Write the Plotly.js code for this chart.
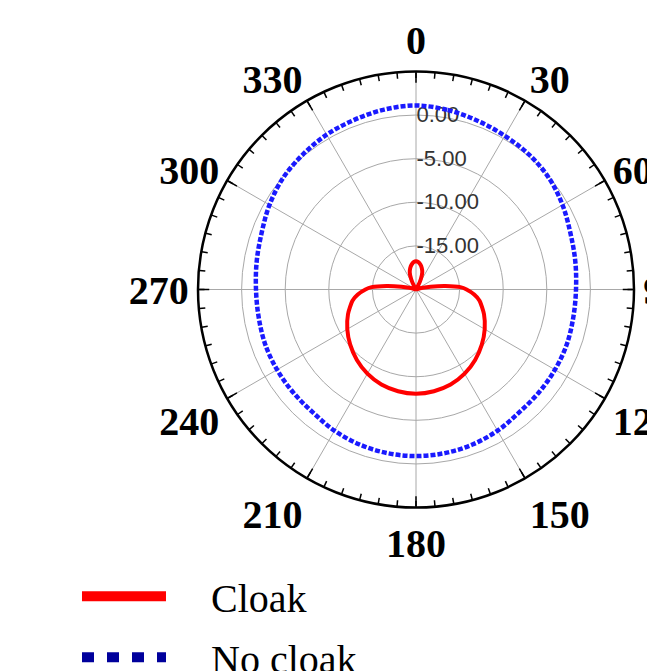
<!DOCTYPE html>
<html>
<head>
<meta charset="utf-8">
<script src="https://cdn.plot.ly/plotly-3.0.1.min.js"></script>
<style>html,body{margin:0;padding:0;background:#fff;}#chart{width:647px;height:671px;}</style>
</head>
<body>
<div id="chart"></div>
<script>
// Angles in degrees (0 at top, clockwise), values in dB
const cloakTheta = [0,5,10,15,20,25,30,35,45,55,65,72,76,79,83,87,90,95,100,110,120,130,140,150,160,170,180,
  190,200,210,220,230,240,250,260,265,270,273,277,281,284,288,295,305,315,325,330,335,340,345,350,355,360];
const cloakR = [-16.75,-16.85,-17.1,-17.45,-17.9,-18.7,-19.6,-20,-20,-20,-20,-19.8,-19.2,-18.3,-16.6,-14.9,-14.2,-13.3,-12.6,-11.7,-10.9,-10.15,-9.45,-8.85,-8.4,-8.15,-8.05,
  -8.15,-8.4,-8.85,-9.45,-10.15,-10.9,-11.7,-12.6,-13.3,-14.2,-14.9,-16.6,-18.3,-19.2,-19.8,-20,-20,-20,-20,-19.6,-18.7,-17.9,-17.45,-17.1,-16.85,-16.75];

const noCloakTheta = [0,10,20,30,40,50,60,70,80,90,100,110,120,130,140,150,160,170,180,
  190,200,210,220,230,240,250,260,270,280,290,300,310,320,330,340,350,360];
const noCloakR = [1.1,0.9,0.6,0.35,0.18,-0.1,-0.6,-1.15,-1.45,-1.65,-1.68,-1.6,-1.6,-1.62,-1.6,-1.3,-1.08,-0.95,-0.9,
  -0.95,-1.08,-1.3,-1.6,-1.62,-1.6,-1.6,-1.68,-1.65,-1.45,-1.15,-0.6,-0.1,0.2,0.5,0.7,0.95,1.1];

const angleTicks = [0,30,60,90,120,150,180,210,240,270,300,330];
const angleLabels = ['0','30','60','90','120','150','180','210','240','270','300','330'];
const minorTicks = [0,5,10,15,20,25,30,35,40,45,50,55,60,65,70,75,80,85,90,95,100,105,110,115,120,125,130,135,140,145,150,155,160,165,170,175,
  180,185,190,195,200,205,210,215,220,225,230,235,240,245,250,255,260,265,270,275,280,285,290,295,300,305,310,315,320,325,330,335,340,345,350,355];
const radialTicks = [-15,-10,-5,0];
const radialLabels = ['-15.00','-10.00','-5.00','0.00'];
const seriesNames = ['Cloak','No cloak'];

const domain = {x:[198/647, 634/647], y:[1-507.5/671, 1-71.5/671]};
const gap = '\u2003';

const traces = [
  {type:'scatterpolar', subplot:'polar', r:noCloakR, theta:noCloakTheta, mode:'lines', name:seriesNames[1],
   legendgroup:'b', showlegend:false,
   line:{color:'#1a1aff', width:4.5, dash:'5px,2px', shape:'spline', smoothing:1}},
  {type:'scatterpolar', subplot:'polar', r:cloakR, theta:cloakTheta, mode:'lines', name:seriesNames[0],
   legendgroup:'a', showlegend:false,
   line:{color:'#ff0000', width:4, shape:'spline', smoothing:0.6}},
  {type:'scatterpolar', subplot:'polar2', r:[null], theta:[null], mode:'lines', name:gap + seriesNames[0],
   legendgroup:'a', line:{color:'#ff0000', width:12}},
  {type:'scatterpolar', subplot:'polar2', r:[null], theta:[null], mode:'lines', name:gap + seriesNames[1],
   legendgroup:'b', line:{color:'#00009c', width:12, dash:'12px,13px'}}
];

const layout = {
  width:647, height:671,
  margin:{l:0,r:0,t:0,b:0, autoexpand:false},
  paper_bgcolor:'#ffffff',
  showlegend:true,
  legend:{x:0.119, xanchor:'left', y:0.066, yanchor:'middle', orientation:'v',
    font:{family:'Liberation Serif, Times New Roman, serif', size:40, color:'#000'},
    itemwidth:84, tracegroupgap:6, traceorder:'grouped', bgcolor:'rgba(0,0,0,0)'},
  polar:{
    domain:domain,
    bgcolor:'rgba(0,0,0,0)',
    angularaxis:{rotation:90, direction:'clockwise', tickmode:'array', tickvals:angleTicks, ticktext:angleLabels,
      ticks:'inside', ticklen:10, tickwidth:1.5, tickcolor:'#000',
      tickfont:{family:'Liberation Serif, Times New Roman, serif', size:40, color:'#000', weight:'bold'},
      showline:true, linecolor:'#000', linewidth:2.5, showgrid:true, gridcolor:'#a8a8a8', gridwidth:1},
    radialaxis:{range:[-20,5], angle:90, side:'clockwise', tickmode:'array', tickvals:radialTicks, ticktext:radialLabels,
      tickfont:{family:'Liberation Sans, Arial, sans-serif', size:22, color:'#333'}, tickangle:90,
      showline:false, ticks:'', showgrid:true, gridcolor:'#a8a8a8', gridwidth:1, layer:'below traces'}
  },
  polar2:{
    domain:domain,
    bgcolor:'rgba(0,0,0,0)',
    angularaxis:{rotation:90, direction:'clockwise', tickmode:'array', tickvals:minorTicks,
      ticks:'inside', ticklen:6, tickwidth:1.5, tickcolor:'#000', showticklabels:false,
      showline:false, showgrid:false},
    radialaxis:{visible:false, range:[-20,5], showgrid:false}
  }
};

Plotly.newPlot('chart', traces, layout, {staticPlot:true, displayModeBar:false});
</script>
</body>
</html>
